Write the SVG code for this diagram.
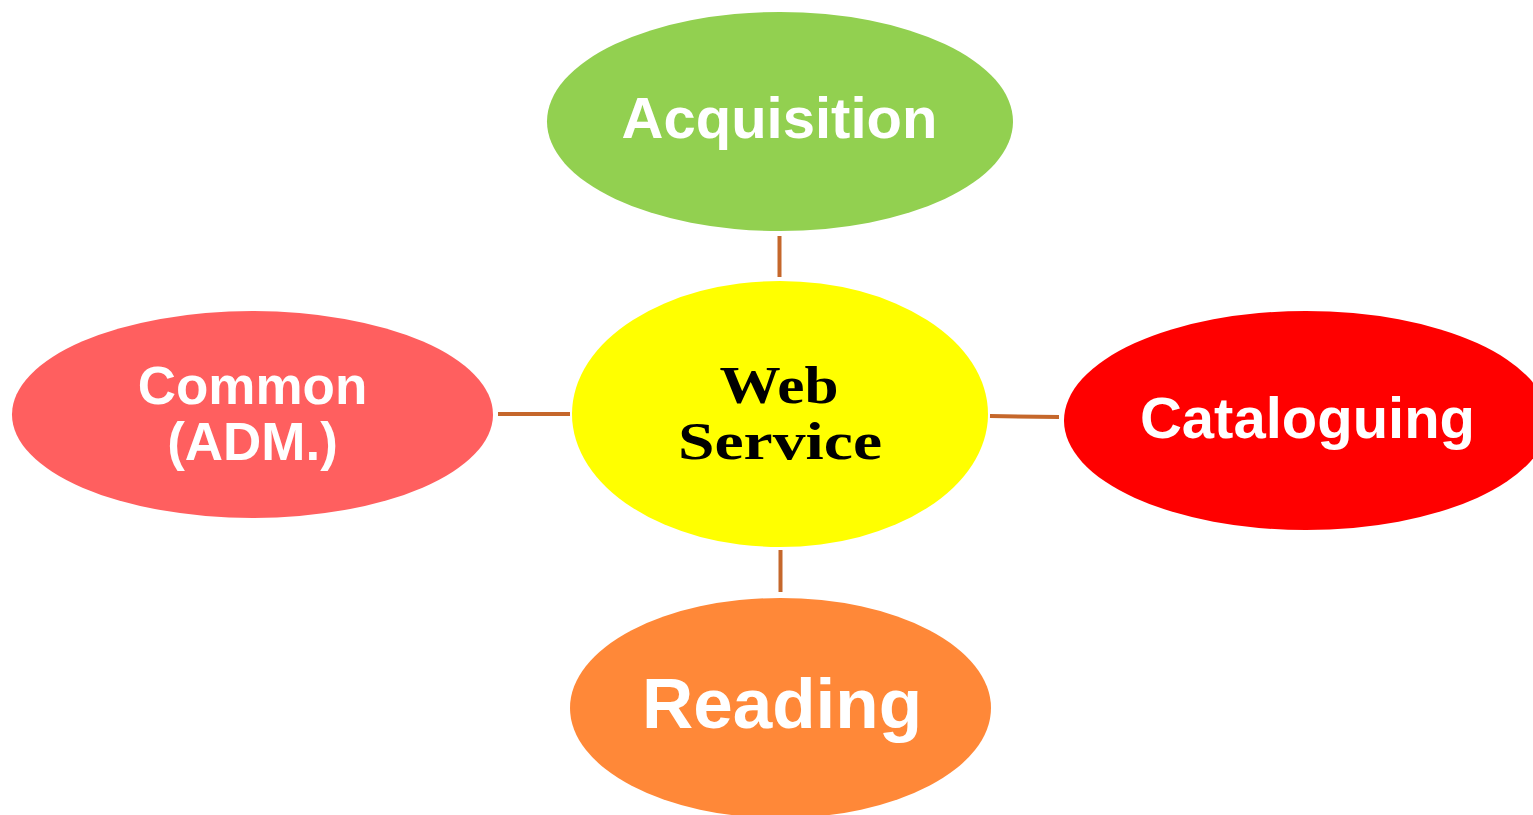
<svg xmlns="http://www.w3.org/2000/svg" width="1533" height="815" viewBox="0 0 1533 815">
<style>
.lbl{font-family:"Liberation Sans",Arial,sans-serif;font-weight:bold;fill:#fff;text-anchor:middle}
.ctr{font-family:"Liberation Serif","Times New Roman",serif;font-weight:bold;fill:#000;text-anchor:middle}
.con{stroke:#C5672B;stroke-width:4;fill:none}
</style>
<rect width="1533" height="815" fill="#fff"/>
<g id="connectors">
<line class="con" x1="779.5" y1="236" x2="779.5" y2="277"/>
<line class="con" x1="780.5" y1="550" x2="780.5" y2="592"/>
<line class="con" x1="498" y1="414" x2="570" y2="414"/>
<line class="con" x1="990" y1="416" x2="1059" y2="417"/>
</g>
<g id="acquisition">
<ellipse cx="780" cy="121.5" rx="233" ry="109.5" fill="#92D050"/>
<text class="lbl" x="779.5" y="138" font-size="58">Acquisition</text>
</g>
<g id="webservice">
<ellipse cx="780" cy="414" rx="208" ry="133" fill="#FFFF00"/>
<text class="ctr" x="779" y="403" font-size="52" textLength="119" lengthAdjust="spacingAndGlyphs">Web</text>
<text class="ctr" x="780" y="459" font-size="52" textLength="204" lengthAdjust="spacingAndGlyphs">Service</text>
</g>
<g id="common">
<ellipse cx="252.5" cy="414.5" rx="240.5" ry="103.5" fill="#FF5F5F"/>
<text class="lbl" x="252.5" y="404" font-size="53">Common</text>
<text class="lbl" x="252.5" y="460" font-size="53">(ADM.)</text>
</g>
<g id="cataloguing">
<ellipse cx="1306" cy="420.5" rx="242" ry="109.5" fill="#FF0000"/>
<text class="lbl" x="1307.5" y="438" font-size="58">Cataloguing</text>
</g>
<g id="reading">
<ellipse cx="780.5" cy="708" rx="210.5" ry="110" fill="#FF8838"/>
<text class="lbl" x="782" y="728" font-size="71">Reading</text>
</g>
</svg>
